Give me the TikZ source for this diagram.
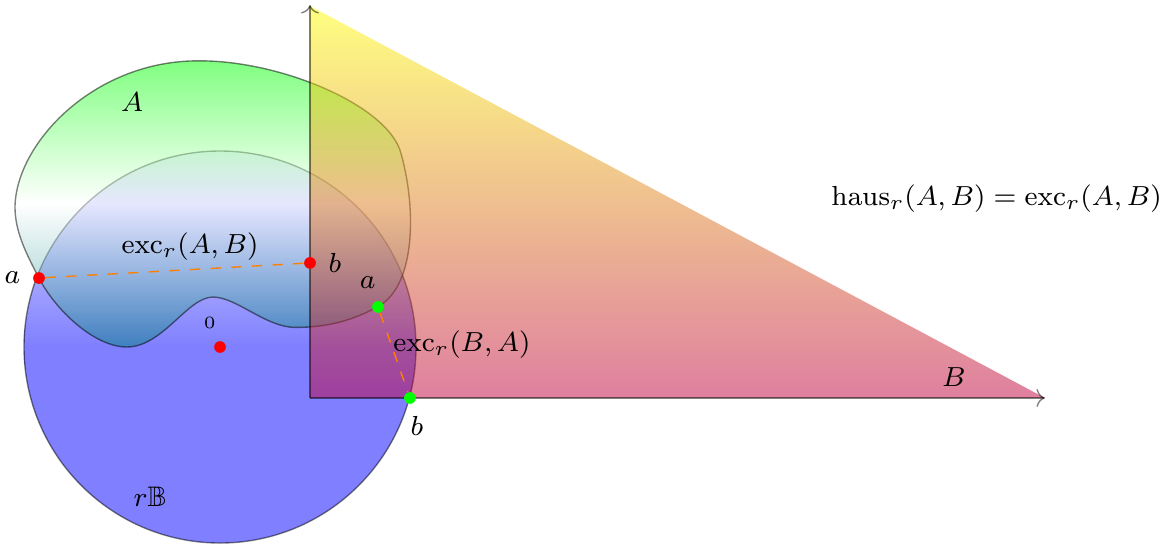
\documentclass[tikz,border=0pt]{standalone}
\usepackage{tikz}
\usetikzlibrary{positioning, arrows.meta, calc}
\usepackage{amsmath}
\usepackage{amssymb}
\definecolor{BallBlue}{HTML}{0000FF}
\definecolor{SetTop}{HTML}{00FF00}
\definecolor{SetBottom}{HTML}{008080}
\definecolor{TriTop}{HTML}{FFFF00}
\definecolor{TriBottom}{HTML}{BF0040}
\definecolor{DistOrange}{HTML}{FF8000}

\begin{document}
\begin{tikzpicture}[
    dot/.style={circle, inner sep=0pt, minimum size=3.4pt},
    reddot/.style={dot, fill=red},
    greendot/.style={dot, fill=green},
    dist/.style={dashed, DistOrange},
    lbl/.style={font=\fontsize{8.2}{10}\selectfont},
    axis/.style={->, black, opacity=0.5}
]
  \useasboundingbox (-3.163,-1.531) rectangle (8.806,4.061);

  % ball, set A, set B
  \shadedraw[top color=BallBlue!15, bottom color=BallBlue, middle color=BallBlue, draw=black, opacity=0.5]
    (-0.918,0.520) circle (2);
  \shadedraw[top color=SetTop, bottom color=SetBottom, middle color=white, draw=black, opacity=0.5]
    (-3.01,1.95) .. controls (-3.0,2.6) and (-2.2,3.45) .. (-1.122,3.44)
    .. controls (-0.3,3.44) and (0.75,3.0) .. (0.918,2.531)
    .. controls (1.08,2.0) and (1.1,1.15) .. (0.69,0.93)
    .. controls (0.45,0.80) and (0.2,0.72) .. (-0.15,0.72)
    .. controls (-0.45,0.72) and (-0.75,1.03) .. (-0.99,1.03)
    .. controls (-1.25,1.03) and (-1.5,0.52) .. (-1.87,0.52)
    .. controls (-2.2,0.52) and (-2.6,0.9) .. (-2.765,1.224)
    .. controls (-2.9,1.48) and (-3.01,1.7) .. (-3.01,1.95) -- cycle;
  \shade[top color=TriTop, bottom color=TriBottom, opacity=0.5] (0,0) -- (0,4) -- (7.5,0) -- cycle;

  \coordinate (O) at (0,0);
  \coordinate (xend) at (7.5,0);
  \coordinate (yend) at (0,4.01);
  \draw[axis] (O) -- (xend);
  \draw[axis] (O) -- (yend);

  \node[reddot, label={[lbl]left:$a$}] (a1) at (-2.765,1.224) {};
  \node[reddot, label={[lbl]right:$b$}] (b1) at (0,1.378) {};
  \node[reddot, label={[font=\tiny, xshift=-3pt]above:$0$}] (zero) at (-0.918,0.520) {};
  \node[greendot, label={[lbl, xshift=-3pt]above:$a$}] (a2) at (0.694,0.929) {};
  \node[greendot, label={[lbl, xshift=2pt]below:$b$}] (b2) at (1.020,0) {};

  \draw[dist] (a1) -- (b1);
  \draw[dist] (a2) -- (b2);

  \node[lbl] (setA) at (-1.816,3.02) {$A$};
  \node[lbl] (ball) at (-1.633,-1.01) {$r\mathbb{B}$};
  \node[lbl] (setB) at (6.571,0.214) {$B$};
  \node[lbl] (excAB) at (-1.224,1.541) {$\operatorname{exc}_r(A,B)$};
  \node[lbl] (excBA) at (1.551,0.541) {$\operatorname{exc}_r(B,A)$};
  \node[lbl] (haus) at (7.005,2.031) {$\operatorname{haus}_r(A,B)=\operatorname{exc}_r(A,B)$};
\end{tikzpicture}
\end{document}
